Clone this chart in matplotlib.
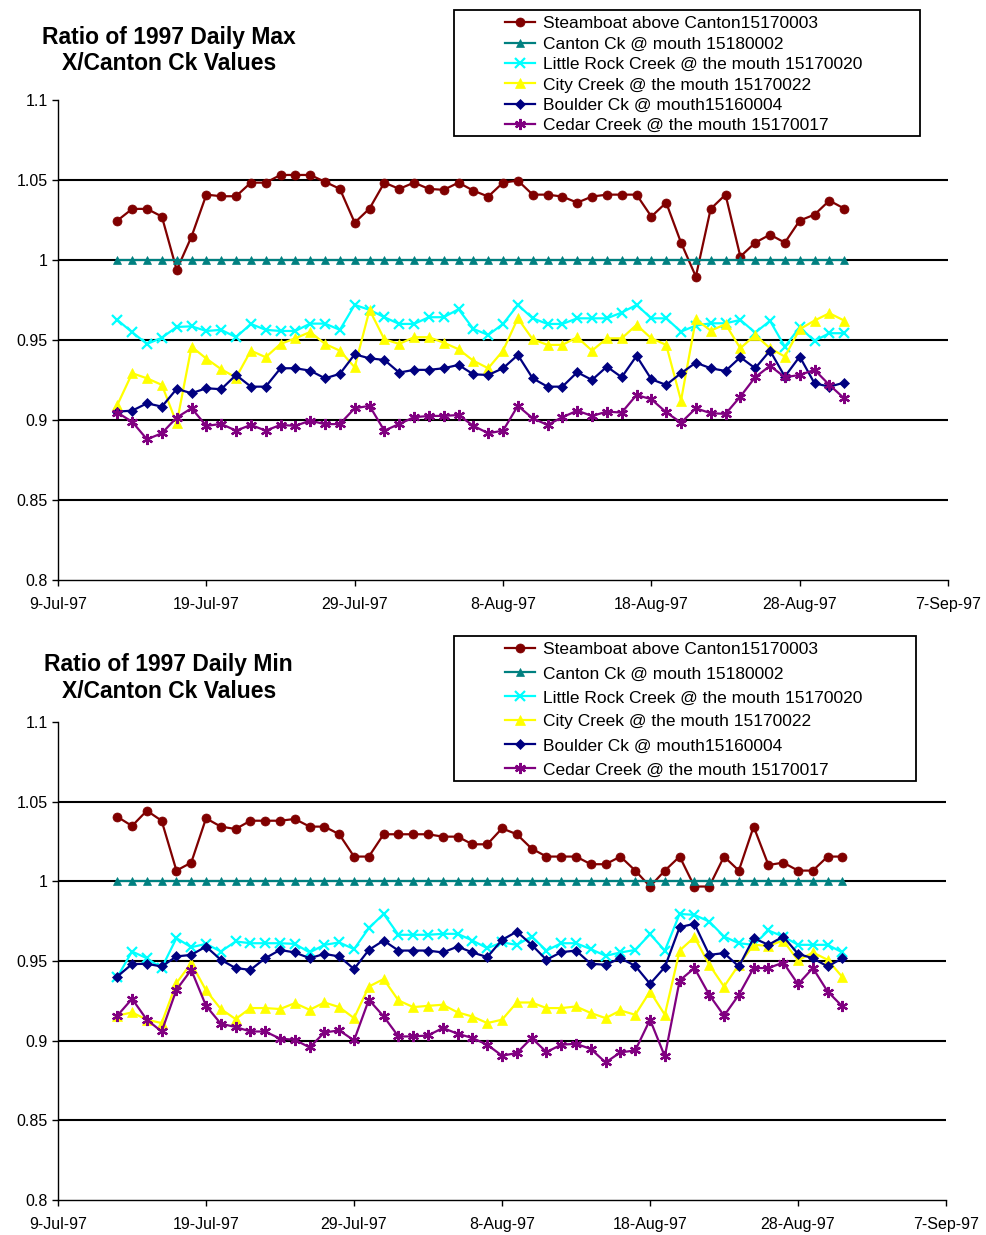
import datetime as dt
import matplotlib
matplotlib.use("Agg")
import matplotlib.pyplot as plt
from matplotlib.patches import Rectangle

plt.rcParams['font.family'] = ['Liberation Sans', 'DejaVu Sans']

# daily values, 13-Jul-97 .. 31-Aug-97
start = dt.date(1997, 7, 13)
days = [start + dt.timedelta(days=i) for i in range(50)]

labels = ["Steamboat above Canton15170003",
          "Canton Ck @ mouth 15180002",
          "Little Rock Creek @ the mouth 15170020",
          "City Creek @ the mouth 15170022",
          "Boulder Ck @ mouth15160004",
          "Cedar Creek @ the mouth 15170017"]

# --- daily max ratios ---
max_steamboat = [1.0246, 1.0319, 1.0319, 1.0271, 0.9937, 1.0146, 1.0408, 1.0398, 1.0398, 1.0483,
                 1.0483, 1.0531, 1.0531, 1.0531, 1.0488, 1.0444, 1.0233, 1.0321, 1.0483, 1.0444,
                 1.0483, 1.0444, 1.0438, 1.0483, 1.0433, 1.0396, 1.0483, 1.0496, 1.0408, 1.0408,
                 1.0396, 1.0358, 1.0396, 1.0408, 1.0408, 1.0408, 1.0271, 1.0358, 1.0108, 0.9896,
                 1.0319, 1.0408, 1.0021, 1.0108, 1.0158, 1.0108, 1.0246, 1.0283, 1.0371, 1.0321]
max_canton = [1.0] * 50
max_littlerock = [0.9625, 0.9548, 0.9475, 0.9514, 0.9581, 0.9585, 0.9556, 0.9563, 0.9517, 0.9600,
                  0.9563, 0.9556, 0.9556, 0.9602, 0.9602, 0.9563, 0.9719, 0.9688, 0.9642, 0.9600,
                  0.9600, 0.9642, 0.9642, 0.9692, 0.9569, 0.9531, 0.9600, 0.9719, 0.9635, 0.9600,
                  0.9600, 0.9635, 0.9635, 0.9635, 0.9671, 0.9719, 0.9635, 0.9635, 0.9552, 0.9590,
                  0.9604, 0.9604, 0.9625, 0.9546, 0.9619, 0.9458, 0.9579, 0.9494, 0.9542, 0.9542]
max_city = [0.9094, 0.9292, 0.9260, 0.9219, 0.8979, 0.9458, 0.9383, 0.9317, 0.9265, 0.9433,
            0.9392, 0.9475, 0.9510, 0.9550, 0.9475, 0.9433, 0.9329, 0.9688, 0.9504, 0.9475,
            0.9517, 0.9517, 0.9483, 0.9442, 0.9370, 0.9323, 0.9433, 0.9635, 0.9504, 0.9469,
            0.9469, 0.9517, 0.9433, 0.9510, 0.9510, 0.9594, 0.9510, 0.9469, 0.9121, 0.9629,
            0.9558, 0.9598, 0.9448, 0.9531, 0.9448, 0.9396, 0.9567, 0.9621, 0.9667, 0.9621]
max_boulder = [0.9052, 0.9058, 0.9104, 0.9083, 0.9194, 0.9167, 0.9198, 0.9192, 0.9281, 0.9208,
               0.9208, 0.9323, 0.9323, 0.9308, 0.9260, 0.9288, 0.9410, 0.9385, 0.9375, 0.9296,
               0.9313, 0.9313, 0.9323, 0.9344, 0.9285, 0.9281, 0.9323, 0.9406, 0.9260, 0.9208,
               0.9208, 0.9298, 0.9250, 0.9333, 0.9267, 0.9400, 0.9254, 0.9219, 0.9292, 0.9358,
               0.9323, 0.9306, 0.9392, 0.9323, 0.9433, 0.9271, 0.9396, 0.9229, 0.9208, 0.9233]
max_cedar = [0.9046, 0.8988, 0.8879, 0.8917, 0.9015, 0.9073, 0.8963, 0.8975, 0.8933, 0.8969,
             0.8933, 0.8969, 0.8963, 0.8996, 0.8973, 0.8975, 0.9073, 0.9088, 0.8933, 0.8975,
             0.9017, 0.9025, 0.9025, 0.9031, 0.8963, 0.8917, 0.8933, 0.9088, 0.9010, 0.8969,
             0.9017, 0.9058, 0.9025, 0.9052, 0.9046, 0.9156, 0.9129, 0.9048, 0.8983, 0.9073,
             0.9042, 0.9038, 0.9146, 0.9267, 0.9338, 0.9267, 0.9281, 0.9313, 0.9219, 0.9135]

# --- daily min ratios ---
min_steamboat = [1.0406, 1.0348, 1.0444, 1.0381, 1.0068, 1.0118, 1.0396, 1.0344, 1.0329, 1.0381,
                 1.0381, 1.0381, 1.0392, 1.0344, 1.0344, 1.0296, 1.0156, 1.0156, 1.0296, 1.0296,
                 1.0296, 1.0296, 1.0281, 1.0281, 1.0233, 1.0233, 1.0333, 1.0296, 1.0206, 1.0156,
                 1.0156, 1.0156, 1.0108, 1.0108, 1.0156, 1.0068, 0.9968, 1.0068, 1.0156, 0.9968,
                 0.9968, 1.0156, 1.0068, 1.0344, 1.0103, 1.0118, 1.0068, 1.0068, 1.0156, 1.0156]
min_canton = [1.0] * 50
min_littlerock = [0.9399, 0.9560, 0.9518, 0.9456, 0.9644, 0.9587, 0.9608, 0.9560, 0.9623, 0.9612,
                  0.9612, 0.9612, 0.9608, 0.9554, 0.9602, 0.9617, 0.9575, 0.9707, 0.9796, 0.9665,
                  0.9665, 0.9665, 0.9671, 0.9671, 0.9629, 0.9581, 0.9617, 0.9602, 0.9654, 0.9566,
                  0.9612, 0.9612, 0.9575, 0.9533, 0.9554, 0.9570, 0.9669, 0.9566, 0.9796, 0.9790,
                  0.9748, 0.9654, 0.9612, 0.9602, 0.9692, 0.9654, 0.9602, 0.9602, 0.9602, 0.9554]
min_city = [0.9157, 0.9178, 0.9132, 0.9111, 0.9362, 0.9487, 0.9316, 0.9199, 0.9136, 0.9205,
            0.9205, 0.9199, 0.9236, 0.9194, 0.9240, 0.9211, 0.9142, 0.9340, 0.9387, 0.9253,
            0.9211, 0.9219, 0.9226, 0.9178, 0.9152, 0.9111, 0.9132, 0.9240, 0.9240, 0.9205,
            0.9205, 0.9215, 0.9174, 0.9142, 0.9190, 0.9163, 0.9309, 0.9163, 0.9566, 0.9650,
            0.9477, 0.9340, 0.9477, 0.9602, 0.9596, 0.9629, 0.9504, 0.9554, 0.9508, 0.9399]
min_boulder = [0.9403, 0.9481, 0.9483, 0.9466, 0.9529, 0.9539, 0.9591, 0.9508, 0.9456, 0.9445,
               0.9518, 0.9570, 0.9554, 0.9518, 0.9545, 0.9529, 0.9450, 0.9570, 0.9629, 0.9566,
               0.9566, 0.9566, 0.9554, 0.9591, 0.9554, 0.9525, 0.9633, 0.9685, 0.9602, 0.9508,
               0.9556, 0.9566, 0.9483, 0.9477, 0.9518, 0.9470, 0.9357, 0.9462, 0.9713, 0.9734,
               0.9539, 0.9550, 0.9466, 0.9644, 0.9602, 0.9654, 0.9545, 0.9518, 0.9466, 0.9518]
min_cedar = [0.9157, 0.9263, 0.9132, 0.9058, 0.9320, 0.9445, 0.9219, 0.9107, 0.9086, 0.9058,
             0.9058, 0.9013, 0.9006, 0.8958, 0.9052, 0.9065, 0.9002, 0.9257, 0.9153, 0.9027,
             0.9027, 0.9033, 0.9080, 0.9044, 0.9017, 0.8975, 0.8906, 0.8923, 0.9017, 0.8929,
             0.8975, 0.8981, 0.8948, 0.8864, 0.8927, 0.8939, 0.9132, 0.8902, 0.9378, 0.9456,
             0.9288, 0.9157, 0.9288, 0.9456, 0.9456, 0.9491, 0.9355, 0.9456, 0.9309, 0.9215]

colors = ['#800000', '#008080', '#00FFFF', '#FFFF00', '#000080', '#800080']
markers = ['o', '^', 'x', '^', 'D', (6, 2, 0)]
msizes = [6.5, 6, 7, 7, 5, 8]

yticks = [0.8, 0.85, 0.9, 0.95, 1.0, 1.05, 1.1]
ytick_labels = ['0.8', '0.85', '0.9', '0.95', '1', '1.05', '1.1']
xticks = [dt.date(1997, 7, 9) + dt.timedelta(days=10 * k) for k in range(7)]
xtick_labels = [f"{d.day}-{d:%b-%y}" for d in xticks]

fig = plt.figure(figsize=(9.87, 12.35), dpi=100)

# (axes rect, title, series, title centre, legend frame, legend anchor, row spacing)
panels = [
    ([0.0588, 0.5304, 0.9017, 0.3887], "Ratio of 1997 Daily Max\nX/Canton Ck Values",
     [max_steamboat, max_canton, max_littlerock, max_city, max_boulder, max_cedar],
     (0.171, 0.9591), (0.4595, 0.8899, 0.4725, 0.1020), (0.5117, 0.9868), 0.30),
    ([0.0588, 0.0283, 0.8997, 0.3870], "Ratio of 1997 Daily Min\nX/Canton Ck Values",
     [min_steamboat, min_canton, min_littlerock, min_city, min_boulder, min_cedar],
     (0.171, 0.4512), (0.4595, 0.3676, 0.4685, 0.1174), (0.5117, 0.4800), 0.51),
]

for rect, title, series, tpos, frame, anchor, lspace in panels:
    ax = fig.add_axes(rect)
    for k in [0.85, 0.9, 0.95, 1.0, 1.05]:
        ax.axhline(k, color='black', lw=1.5, zorder=1)
    handles = []
    for vals, c, m, ms, lab in zip(series, colors, markers, msizes, labels):
        h, = ax.plot(days, vals, color=c, marker=m, markersize=ms, lw=1.6,
                     markeredgewidth=1.6 if m in ('x', (6, 2, 0)) else 0.5,
                     markeredgecolor=c, label=lab, zorder=3)
        handles.append(h)

    ax.set_ylim(0.8, 1.1)
    ax.set_xlim(dt.date(1997, 7, 9), dt.date(1997, 9, 7))
    ax.set_yticks(yticks)
    ax.set_yticklabels(ytick_labels)
    ax.set_xticks(xticks)
    ax.set_xticklabels(xtick_labels)
    ax.tick_params(labelsize=11.5, direction='out', length=4, width=1, color='black')
    ax.tick_params(axis='x', pad=8)
    for side in ['top', 'right']:
        ax.spines[side].set_visible(False)
    for side in ['left', 'bottom']:
        ax.spines[side].set_linewidth(1)

    fig.text(tpos[0], tpos[1], title, ha='center', va='center', fontsize=16.5,
             fontweight='bold', linespacing=1.2)

    # legend frame drawn separately so the entries can sit inset from its left edge
    fig.patches.append(Rectangle(frame[:2], frame[2], frame[3], transform=fig.transFigure,
                                 facecolor='white', edgecolor='black', lw=1.3, zorder=5))
    leg = fig.legend(handles=handles, loc='upper left', bbox_to_anchor=anchor,
                     fontsize=12.5, frameon=False, handlelength=1.75, borderaxespad=0,
                     borderpad=0, labelspacing=lspace, handletextpad=0.42)
    leg.set_zorder(10)

fig.savefig("out.png", dpi=100)
